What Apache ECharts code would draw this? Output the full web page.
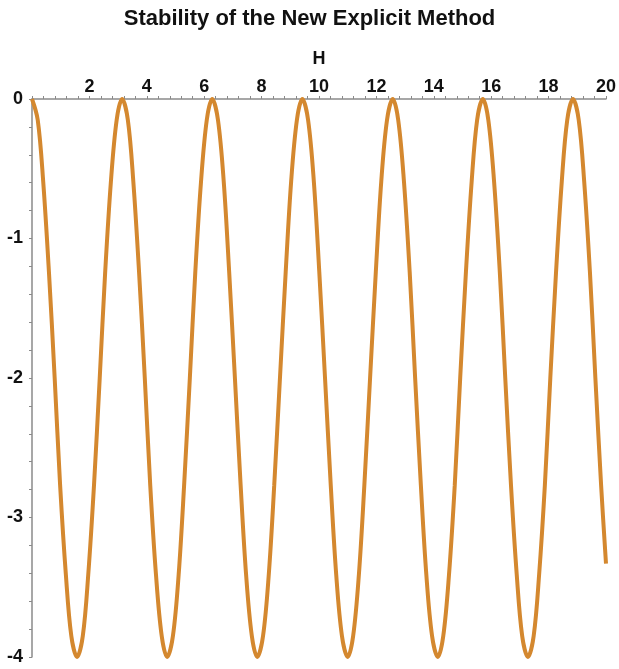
<!DOCTYPE html>
<html>
<head>
<meta charset="utf-8">
<script src="https://cdn.jsdelivr.net/npm/echarts@6/dist/echarts.min.js"></script>
<style>html,body{margin:0;padding:0;background:#fff}#c{width:619px;height:669px}</style>
</head>
<body>
<div id="c"></div>
<script>
// H values (sample positions)
var hValues = [
  0.00, 0.20, 0.39, 0.59, 0.79, 0.98, 1.18, 1.37, 1.57, 1.77, 1.96, 2.16, 2.36, 2.55, 2.75, 2.95,
  3.14, 3.34, 3.53, 3.73, 3.93, 4.12, 4.32, 4.52, 4.71, 4.91, 5.11, 5.30, 5.50, 5.69, 5.89, 6.09,
  6.28, 6.48, 6.68, 6.87, 7.07, 7.27, 7.46, 7.66, 7.85, 8.05, 8.25, 8.44, 8.64, 8.84, 9.03, 9.23,
  9.42, 9.62, 9.82, 10.01, 10.21, 10.41, 10.60, 10.80, 11.00, 11.19, 11.39, 11.58, 11.78, 11.98, 12.17, 12.37,
  12.57, 12.76, 12.96, 13.16, 13.35, 13.55, 13.74, 13.94, 14.14, 14.33, 14.53, 14.73, 14.92, 15.12, 15.32, 15.51,
  15.71, 15.90, 16.10, 16.30, 16.49, 16.69, 16.89, 17.08, 17.28, 17.48, 17.67, 17.87, 18.06, 18.26, 18.46, 18.65,
  18.85, 19.05, 19.24, 19.44, 19.63, 19.83, 20.00
];
// stability values
var stabValues = [
  0, -0.15, -0.59, -1.24, -2, -2.77, -3.41, -3.85, -4, -3.85, -3.41, -2.77, -2, -1.24, -0.59, -0.15,
  0, -0.15, -0.59, -1.24, -2, -2.77, -3.41, -3.85, -4, -3.85, -3.41, -2.77, -2, -1.24, -0.59, -0.15,
  0, -0.15, -0.59, -1.24, -2, -2.77, -3.41, -3.85, -4, -3.85, -3.41, -2.77, -2, -1.24, -0.59, -0.15,
  0, -0.15, -0.59, -1.24, -2, -2.77, -3.41, -3.85, -4, -3.85, -3.41, -2.77, -2, -1.24, -0.59, -0.15,
  0, -0.15, -0.59, -1.24, -2, -2.77, -3.41, -3.85, -4, -3.85, -3.41, -2.77, -2, -1.24, -0.59, -0.15,
  0, -0.15, -0.59, -1.24, -2, -2.77, -3.41, -3.85, -4, -3.85, -3.41, -2.77, -2, -1.24, -0.59, -0.15,
  0, -0.15, -0.59, -1.24, -2, -2.77, -3.33
];
var xTicks = [2, 4, 6, 8, 10, 12, 14, 16, 18, 20];
var yTicks = [0, -1, -2, -3, -4];

var pts = hValues.map(function (h, i) { return [h, stabValues[i]]; });
var chart = echarts.init(document.getElementById('c'));
var axisColor = '#8a8a8a';
var labelStyle = { color: '#111', fontFamily: 'Liberation Sans, Arial, sans-serif', fontWeight: 'bold', fontSize: 18 };
chart.setOption({
  animation: false,
  title: {
    text: 'Stability of the New Explicit Method',
    left: 'center', top: 3,
    textStyle: { color: '#111', fontFamily: 'Liberation Sans, Arial, sans-serif', fontWeight: 'bold', fontSize: 22 }
  },
  grid: { left: 32, right: 8, top: 99, bottom: 12, containLabel: false },
  xAxis: {
    type: 'value', position: 'top', min: 0, max: 20, interval: 2,
    name: 'H', nameLocation: 'middle', nameGap: 31,
    nameTextStyle: labelStyle,
    axisLine: { lineStyle: { color: axisColor, width: 1.5 } },
    axisTick: { show: true, length: 3, inside: false, lineStyle: { color: axisColor } },
    minorTick: { show: true, splitNumber: 5, length: 3, lineStyle: { color: axisColor } },
    splitLine: { show: false },
    axisLabel: Object.assign({ margin: 3, showMinLabel: false,
      formatter: function (v) { return xTicks.indexOf(v) >= 0 ? String(v) : ''; } }, labelStyle)
  },
  yAxis: {
    type: 'value', min: -4, max: 0, interval: 1,
    axisLine: { show: true, onZero: false, lineStyle: { color: axisColor, width: 1.5 } },
    axisTick: { show: true, length: 3, lineStyle: { color: axisColor } },
    minorTick: { show: true, splitNumber: 5, length: 3, lineStyle: { color: axisColor } },
    splitLine: { show: false },
    axisLabel: Object.assign({ margin: 9,
      formatter: function (v) { return yTicks.indexOf(v) >= 0 ? String(v) : ''; } }, labelStyle)
  },
  series: [{
    type: 'line', data: pts, smooth: 0.35, showSymbol: false,
    lineStyle: { color: '#d4882f', width: 4 }
  }]
});
</script>
</body>
</html>
